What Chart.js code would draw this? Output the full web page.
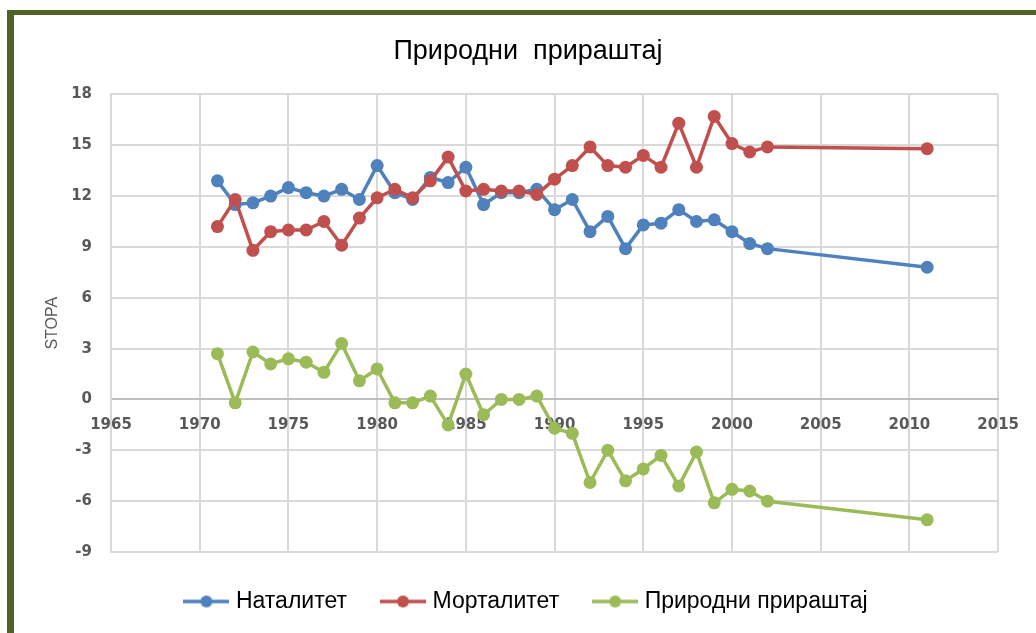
<!DOCTYPE html>
<html>
<head>
<meta charset="utf-8">
<script src="https://cdn.jsdelivr.net/npm/chart.js@4.4.1/dist/chart.umd.min.js"></script>
<style>
    body { margin: 0; background: #fff; overflow: hidden; }
    #wrap { position: relative; width: 1036px; height: 633px; }
    .frame { position: absolute; background: #4F6228; }
    #chart { position: absolute; left: 0; top: 0; }
</style>
</head>
<body>
<div id="wrap">
    <div class="frame" style="left:7px;top:10px;width:1029px;height:5px;"></div>
    <div class="frame" style="left:7px;top:10px;width:7px;height:623px;"></div>
    <canvas id="chart" width="1036" height="633"></canvas>
</div>
<script>
const years = [1971, 1972, 1973, 1974, 1975, 1976, 1977, 1978, 1979, 1980,
    1981, 1982, 1983, 1984, 1985, 1986, 1987, 1988, 1989, 1990,
    1991, 1992, 1993, 1994, 1995, 1996, 1997, 1998, 1999, 2000,
    2001, 2002, 2011];
const natalitet = [12.9, 11.5, 11.6, 12.0, 12.5, 12.2, 12.0, 12.4, 11.8, 13.8,
    12.2, 11.8, 13.1, 12.8, 13.7, 11.5, 12.2, 12.2, 12.4, 11.2,
    11.8, 9.9, 10.8, 8.9, 10.3, 10.4, 11.2, 10.5, 10.6, 9.9,
    9.2, 8.9, 7.8];
const mortalitet = [10.2, 11.8, 8.8, 9.9, 10.0, 10.0, 10.5, 9.1, 10.7, 11.9,
    12.4, 11.9, 12.9, 14.3, 12.3, 12.4, 12.3, 12.3, 12.1, 13.0,
    13.8, 14.9, 13.8, 13.7, 14.4, 13.7, 16.3, 13.7, 16.7, 15.1,
    14.6, 14.9, 14.8];
const prirastaj = [2.7, -0.2, 2.8, 2.1, 2.4, 2.2, 1.6, 3.3, 1.1, 1.8,
    -0.2, -0.2, 0.2, -1.5, 1.5, -0.9, 0.0, 0.0, 0.2, -1.7,
    -2.0, -4.9, -3.0, -4.8, -4.1, -3.3, -5.1, -3.1, -6.1, -5.3,
    -5.4, -6.0, -7.1];
const seriesNames = ['Наталитет', 'Морталитет', 'Природни прираштај'];
const colors = ['#4F81BD', '#C0504D', '#9BBB59'];

const tickColor = '#595959';
const gridColor = '#D9D9D9';

function points(values) {
    return years.map(function(y, i) { return {x: y, y: values[i]}; });
}

// legend icon: short line with a dot in the middle
function legendIcon(color) {
    const c = document.createElement('canvas');
    c.width = 46;
    c.height = 14;
    const g = c.getContext('2d');
    g.strokeStyle = color;
    g.lineWidth = 3.5;
    g.beginPath();
    g.moveTo(0, 7);
    g.lineTo(46, 7);
    g.stroke();
    g.fillStyle = color;
    g.beginPath();
    g.arc(23, 7, 6, 0, Math.PI * 2);
    g.fill();
    return c;
}
const icons = colors.map(legendIcon);

function makeDataset(label, values, color, order) {
    return {
        label: label,
        data: points(values),
        borderColor: color,
        backgroundColor: color,
        borderWidth: 3.5,
        borderJoinStyle: 'round',
        borderCapStyle: 'round',
        pointRadius: 6.5,
        pointBorderWidth: 0,
        pointBackgroundColor: color,
        tension: 0,
        order: order
    };
}

const ctx = document.getElementById('chart').getContext('2d');
new Chart(ctx, {
    type: 'line',
    data: {
        datasets: [
            makeDataset(seriesNames[0], natalitet, colors[0], 3),
            makeDataset(seriesNames[1], mortalitet, colors[1], 2),
            makeDataset(seriesNames[2], prirastaj, colors[2], 1)
        ]
    },
    options: {
        responsive: false,
        animation: false,
        devicePixelRatio: 1,
        layout: { padding: { left: 20, right: 0, top: 0, bottom: 10 } },
        plugins: {
            tooltip: { enabled: false },
            title: {
                display: true,
                text: 'Природни  прираштај',
                color: '#000',
                font: { family: 'Liberation Sans', size: 27, weight: 'normal' },
                padding: { top: 35, bottom: 27 }
            },
            legend: {
                position: 'bottom',
                labels: {
                    usePointStyle: true,
                    pointStyleWidth: 36,
                    padding: 38,
                    color: '#000',
                    font: { family: 'Liberation Sans', size: 23 },
                    generateLabels: function(chart) {
                        const items = Chart.defaults.plugins.legend.labels.generateLabels(chart);
                        items.sort(function(a, b) { return a.datasetIndex - b.datasetIndex; });
                        items.forEach(function(it) { it.pointStyle = icons[it.datasetIndex]; });
                        return items;
                    }
                }
            }
        },
        scales: {
            x: {
                type: 'linear',
                position: { y: 0 },
                min: 1965,
                max: 2015,
                ticks: {
                    stepSize: 5,
                    autoSkip: false,
                    maxRotation: 0,
                    padding: 17,
                    color: tickColor,
                    font: { family: 'DejaVu Sans', size: 15, weight: 'bold' },
                    callback: function(v) { return String(v); }
                },
                grid: { color: gridColor, lineWidth: 2, drawTicks: false },
                border: { color: '#BFBFBF', width: 2 }
            },
            y: {
                type: 'linear',
                position: 'left',
                min: -9,
                max: 18,
                ticks: {
                    stepSize: 3,
                    padding: 19,
                    color: tickColor,
                    font: { family: 'DejaVu Sans', size: 15, weight: 'bold' }
                },
                grid: { color: gridColor, lineWidth: 2, drawTicks: false },
                border: { color: gridColor, width: 2 },
                title: {
                    display: true,
                    text: 'STOPA',
                    color: tickColor,
                    font: { family: 'Liberation Sans', size: 16 },
                    padding: { top: 23, bottom: 0 }
                },
                afterFit: function(scale) { scale.width = 91; }
            },
            pad: {
                type: 'linear',
                position: 'right',
                display: true,
                ticks: { display: false },
                grid: { display: false, drawTicks: false },
                border: { display: false },
                afterFit: function(scale) { scale.width = 35; }
            }
        }
    }
});
</script>
</body>
</html>
